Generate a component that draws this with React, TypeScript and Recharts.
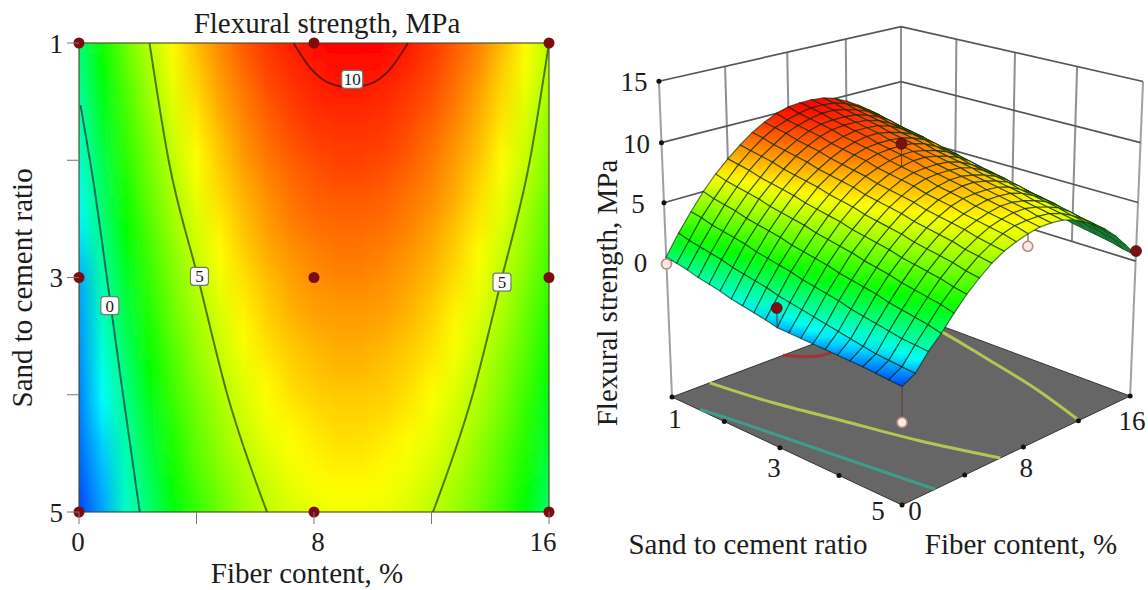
import React from 'react';
import { ComposedChart, Line, Scatter, XAxis, YAxis } from 'recharts';

const FONT = '"Liberation Serif", "Times New Roman", serif';
const TEXT = '#1c1c1c';

// grid the strength was read on
const fiberSteps = [0, 0.8, 1.6, 2.4, 3.2, 4, 4.8, 5.6, 6.4, 7.2, 8, 8.8, 9.6, 10.4, 11.2, 12, 12.8, 13.6, 14.4, 15.2, 16];
const ratioSteps = [1, 1.2, 1.4, 1.6, 1.8, 2, 2.2, 2.4, 2.6, 2.8, 3, 3.2, 3.4, 3.6, 3.8, 4, 4.2, 4.4, 4.6, 4.8, 5];

// one row per ratio, one column per fiber step, MPa
const strength = [
  [0.4, 2.1, 3.6, 5.0, 6.2, 7.2, 8.1, 8.9, 9.5, 10.0, 10.3, 10.4, 10.4, 10.3, 10.0, 9.5, 8.9, 8.2, 7.3, 6.2, 5.0],
  [0.2, 1.8, 3.4, 4.7, 5.9, 7.0, 7.9, 8.7, 9.3, 9.7, 10.0, 10.2, 10.2, 10.1, 9.8, 9.3, 8.7, 8.0, 7.0, 6.0, 4.8],
  [0.0, 1.6, 3.1, 4.5, 5.7, 6.8, 7.7, 8.4, 9.1, 9.5, 9.8, 10.0, 10.0, 9.8, 9.5, 9.1, 8.5, 7.7, 6.8, 5.8, 4.6],
  [-0.3, 1.4, 2.9, 4.3, 5.5, 6.5, 7.5, 8.2, 8.8, 9.3, 9.6, 9.7, 9.7, 9.6, 9.3, 8.9, 8.3, 7.5, 6.6, 5.5, 4.3],
  [-0.5, 1.2, 2.7, 4.0, 5.3, 6.3, 7.2, 8.0, 8.6, 9.1, 9.4, 9.5, 9.5, 9.4, 9.1, 8.6, 8.0, 7.3, 6.4, 5.3, 4.1],
  [-0.7, 0.9, 2.5, 3.8, 5.0, 6.1, 7.0, 7.8, 8.4, 8.8, 9.1, 9.3, 9.3, 9.2, 8.9, 8.4, 7.8, 7.1, 6.1, 5.1, 3.9],
  [-1.0, 0.7, 2.2, 3.6, 4.8, 5.9, 6.8, 7.5, 8.1, 8.6, 8.9, 9.1, 9.1, 8.9, 8.6, 8.2, 7.6, 6.8, 5.9, 4.9, 3.7],
  [-1.2, 0.5, 2.0, 3.4, 4.6, 5.6, 6.6, 7.3, 7.9, 8.4, 8.7, 8.8, 8.8, 8.7, 8.4, 8.0, 7.4, 6.6, 5.7, 4.6, 3.4],
  [-1.4, 0.3, 1.8, 3.1, 4.4, 5.4, 6.3, 7.1, 7.7, 8.2, 8.5, 8.6, 8.6, 8.5, 8.2, 7.7, 7.1, 6.4, 5.5, 4.4, 3.2],
  [-1.6, 0.0, 1.6, 2.9, 4.1, 5.2, 6.1, 6.9, 7.5, 7.9, 8.2, 8.4, 8.4, 8.2, 7.9, 7.5, 6.9, 6.1, 5.2, 4.2, 3.0],
  [-1.85, -0.2, 1.3, 2.7, 3.9, 5.0, 5.9, 6.6, 7.2, 7.7, 8.0, 8.2, 8.2, 8.0, 7.7, 7.3, 6.7, 5.9, 5.0, 4.0, 2.8],
  [-1.9, -0.4, 1.1, 2.5, 3.7, 4.7, 5.6, 6.4, 7.0, 7.5, 7.8, 7.9, 7.9, 7.8, 7.5, 7.0, 6.4, 5.7, 4.8, 3.7, 2.5],
  [-1.95, -0.6, 0.9, 2.2, 3.5, 4.5, 5.4, 6.2, 6.8, 7.3, 7.6, 7.7, 7.7, 7.6, 7.3, 6.8, 6.2, 5.5, 4.6, 3.5, 2.3],
  [-2.0, -0.8, 0.7, 2.0, 3.2, 4.3, 5.2, 6.0, 6.6, 7.0, 7.3, 7.5, 7.5, 7.3, 7.0, 6.6, 6.0, 5.2, 4.3, 3.3, 2.1],
  [-2.05, -1.0, 0.4, 1.8, 3.0, 4.1, 5.0, 5.7, 6.3, 6.8, 7.1, 7.3, 7.3, 7.1, 6.8, 6.4, 5.8, 5.0, 4.1, 3.1, 1.9],
  [-2.1, -1.2, 0.2, 1.6, 2.8, 3.8, 4.7, 5.5, 6.1, 6.6, 6.9, 7.0, 7.0, 6.9, 6.6, 6.1, 5.5, 4.8, 3.9, 2.8, 1.6],
  [-2.15, -1.4, 0.0, 1.3, 2.5, 3.6, 4.5, 5.3, 5.9, 6.3, 6.6, 6.8, 6.8, 6.7, 6.4, 5.9, 5.3, 4.6, 3.7, 2.6, 1.4],
  [-2.2, -1.6, -0.2, 1.1, 2.3, 3.4, 4.3, 5.1, 5.7, 6.1, 6.4, 6.6, 6.6, 6.4, 6.1, 5.7, 5.1, 4.3, 3.4, 2.4, 1.2],
  [-2.3, -1.7, -0.4, 0.9, 2.1, 3.2, 4.1, 4.8, 5.4, 5.9, 6.2, 6.4, 6.4, 6.2, 5.9, 5.5, 4.9, 4.1, 3.2, 2.2, 1.0],
  [-2.4, -1.8, -0.5, 0.7, 1.9, 2.9, 3.8, 4.6, 5.2, 5.7, 6.0, 6.1, 6.1, 6.0, 5.7, 5.2, 4.6, 3.9, 3.0, 1.9, 0.7],
  [-2.5, -1.9, -0.6, 0.4, 1.6, 2.7, 3.6, 4.4, 5.0, 5.4, 5.7, 5.9, 5.9, 5.8, 5.5, 5.0, 4.4, 3.7, 2.8, 1.7, 0.5],
];

// contour lines as [fiber, ratio] pairs
const contourZero = [[0.05, 1.53], [0.5, 2.2], [0.95, 3], [1.46, 3.93], [2.07, 5]];
const contourFiveLeft = [[2.4, 1], [3.05, 2], [4.05, 3], [5.05, 4], [6.4, 5]];
const contourFiveRight = [[12.05, 5], [13.4, 4], [14.4, 3], [15.35, 2], [16, 1]];
const contourTen = [[7.3, 1], [7.9, 1.22], [8.6, 1.35], [9.25, 1.38], [9.9, 1.35], [10.6, 1.22], [11.2, 1]];

const contourLabels = [
  { fiber: 9.3, ratio: 1.31, text: '10' },
  { fiber: 4.1, ratio: 2.99, text: '5' },
  { fiber: 14.4, ratio: 3.04, text: '5' },
  { fiber: 1.05, ratio: 3.24, text: '0' },
];

const designFibers = [0, 8, 16];
const designRatios = [1, 3, 5];
const fiberTicks = [0, 4, 8, 12, 16];
const ratioTicks = [1, 2, 3, 4, 5];

// measured design points that show in the 3D view
const shownPoints = [
  { fiber: 0, ratio: 1, value: -0.2, above: false },
  { fiber: 0, ratio: 3, value: -0.25, above: true },
  { fiber: 0, ratio: 5, value: -5.3, above: false },
  { fiber: 8, ratio: 3, value: 9.9, above: true },
  { fiber: 8, ratio: 5, value: 4.7, above: false },
  { fiber: 16, ratio: 5, value: 0.87, above: true },
];

const wallLevels = [0, 5, 10, 15];
const FLOOR = -11.9;

const colorStops: [number, number[]][] = [
  [-2.6, [0, 50, 255]],
  [-1.3, [0, 255, 255]],
  [1.8, [0, 255, 0]],
  [6.1, [255, 255, 0]],
  [10.4, [255, 0, 0]],
];

function heat(v: number) {
  if (v <= colorStops[0][0]) return 'rgb(0,50,255)';
  for (let i = 1; i < colorStops.length; i++) {
    const [hi, c1] = colorStops[i];
    const [lo, c0] = colorStops[i - 1];
    if (v <= hi) {
      const k = (v - lo) / (hi - lo);
      return `rgb(${c0.map((c, n) => Math.round(c + (c1[n] - c) * k)).join(',')})`;
    }
  }
  return 'rgb(255,0,0)';
}

// camera of the 3D view, fitted on the box corners
function project(fiber: number, ratio: number, z: number) {
  const u = fiber / 16;
  const v = (ratio - 1) / 4;
  const t = -0.002 * (z - FLOOR);
  const w = 0.1207 * u - 0.1169 * v + 1 + t;
  return {
    px: (337.8 * u + 124.6 * v + 672 + 902 * t) / w,
    py: (-48.5 * u + 49 * v + 397 + 5950 * t) / w,
    depth: w,
  };
}

const surfaceCells: any[] = [];
for (let i = 0; i < ratioSteps.length - 1; i++) {
  for (let j = 0; j < fiberSteps.length - 1; j++) {
    const idx = [[i, j], [i, j + 1], [i + 1, j + 1], [i + 1, j]];
    const corners = idx.map(([a, b]) => project(fiberSteps[b], ratioSteps[a], strength[a][b]));
    const vals = idx.map(([a, b]) => strength[a][b]);
    // signed area tells the faces turned away from the camera
    let area = 0;
    corners.forEach((c, n) => {
      const d = corners[(n + 1) % 4];
      area += c.px * d.py - d.px * c.py;
    });
    const loAt = vals.indexOf(Math.min(...vals));
    const hiAt = vals.indexOf(Math.max(...vals));
    surfaceCells.push({
      ...corners[0],
      corners,
      id: `cell-${i}-${j}`,
      back: area < 0,
      lo: { ...corners[loAt], value: vals[loAt] },
      hi: { ...corners[hiAt], value: vals[hiAt] },
      order: project(fiberSteps[j], ratioSteps[i + 1], FLOOR).depth + project(fiberSteps[j + 1], ratioSteps[i], FLOOR).depth,
    });
  }
}
surfaceCells.sort((a, b) => b.order - a.order);

const heatRows = ratioSteps.map((ratio, i) => ({ fiber: 8, ratio, values: strength[i], row: i }));
const leftDots = designRatios.flatMap((ratio) => designFibers.map((fiber) => ({ fiber, ratio })));
const frame = [[0, 1], [16, 1], [16, 5], [0, 5], [0, 1]];

const floorCorners = [project(0, 1, FLOOR), project(16, 1, FLOOR), project(16, 5, FLOOR), project(0, 5, FLOOR)];
const floorCell = [{ ...floorCorners[0], corners: floorCorners, fill: '#666666' }];

const toFiberRatio = (pts: number[][]) => pts.map(([fiber, ratio]) => ({ fiber, ratio }));
const toFloor = (pts: number[][]) => pts.map(([fiber, ratio]) => project(fiber, ratio, FLOOR));

const wallLines: { pts: any[]; color: string; width: number }[] = [];
[4, 8, 12].forEach((f) => wallLines.push({ pts: [project(f, 1, 0), project(f, 1, 15)], color: '#8f8f8f', width: 2 }));
[2, 3, 4].forEach((r) => wallLines.push({ pts: [project(16, r, 0), project(16, r, 15)], color: '#8f8f8f', width: 2 }));
wallLines.push({ pts: [project(16, 1, 0), project(16, 1, 15)], color: '#8f8f8f', width: 2 });
wallLines.push({ pts: [project(0, 1, FLOOR), project(0, 1, 15)], color: '#a0a0a0', width: 2 });
wallLines.push({ pts: [project(16, 5, FLOOR), project(16, 5, 15)], color: '#a0a0a0', width: 2 });
wallLevels.forEach((z) => {
  wallLines.push({ pts: [project(0, 1, z), project(16, 1, z), project(16, 5, z)], color: '#565656', width: 1.7 });
});

const stems = shownPoints.map((p) => {
  const a = ratioSteps.indexOf(p.ratio);
  const b = fiberSteps.indexOf(p.fiber);
  return [project(p.fiber, p.ratio, p.value), project(p.fiber, p.ratio, strength[a][b])];
});
const pointMarks = shownPoints.map((p) => ({ ...project(p.fiber, p.ratio, p.value), above: p.above }));

const tickMarks = [
  ...[5, 10, 15].map((z) => project(0, 1, z)),
  ...[1, 2, 3, 4, 5].map((r) => project(0, r, FLOOR)),
  ...[4, 8, 12, 16].map((f) => project(f, 5, FLOOR)),
];

const textMarks = [
  ...['15', '10', '5', '0'].map((text) => ({ ...project(0, 1, Number(text)), text, dx: text.length > 1 ? -25 : -26, dy: 3 })),
  ...[
    { text: '1', dx: 3, dy: 24 },
    { text: '3', dx: -6, dy: 22 },
    { text: '5', dx: -24, dy: 8 },
  ].map((m) => ({ ...project(0, Number(m.text), FLOOR), ...m })),
  ...[
    { text: '0', dx: 13, dy: 8 },
    { text: '8', dx: 3, dy: 23 },
    { text: '16', dx: 2, dy: 27 },
  ].map((m) => ({ ...project(Number(m.text), 5, FLOOR), ...m })),
];

// left panel box in page pixels
const PLOT_LEFT = 79;
const PLOT_TOP = 43;
const PLOT_W = 470;
const PLOT_H = 469;

function HeatRow(props: any) {
  const { cx, cy, payload } = props;
  const id = `row-${payload.row}`;
  const x0 = cx - PLOT_W / 2;
  const step = PLOT_H / (ratioSteps.length - 1);
  const top = payload.row === 0 ? cy - 60 : cy - step / 2 - 0.5;
  const bottom = payload.row === ratioSteps.length - 1 ? cy + 60 : cy + step / 2 + 0.5;
  return (
    <g>
      <defs>
        <linearGradient id={id} x1="0" x2="1" y1="0" y2="0">
          {payload.values.map((v: number, i: number) => (
            <stop key={i} offset={fiberSteps[i] / 16} stopColor={heat(v)} />
          ))}
        </linearGradient>
      </defs>
      <rect x={x0} y={top} width={PLOT_W} height={bottom - top} fill={`url(#${id})`} />
    </g>
  );
}

const Dot = (props: any) => <circle cx={props.cx} cy={props.cy} r={5.5} fill="#7d0c10" />;

function ContourTag(props: any) {
  const { cx, cy, payload } = props;
  const w = payload.text.length > 1 ? 21 : 18;
  return (
    <g>
      <rect x={cx - w / 2} y={cy - 9} width={w} height={18} rx={3} fill="#fff" stroke="#6b7d6b" strokeWidth={1.2} />
      <text x={cx} y={cy + 6} textAnchor="middle" fontFamily={FONT} fontSize={17} fill={TEXT}>{payload.text}</text>
    </g>
  );
}

function Poly(props: any) {
  const { cx, cy, payload } = props;
  const dx = cx - payload.px;
  const dy = cy - payload.py;
  const points = payload.corners.map((c: any) => `${c.px + dx},${c.py + dy}`).join(' ');
  return <polygon points={points} fill={payload.fill} stroke="#333" strokeWidth={1} />;
}

function SurfaceCell(props: any) {
  const { cx, cy, payload } = props;
  const dx = cx - payload.px;
  const dy = cy - payload.py;
  const points = payload.corners.map((c: any) => `${c.px + dx},${c.py + dy}`).join(' ');
  if (payload.back) return <polygon points={points} fill="#1c7a34" stroke="#0f5a22" strokeWidth={1} />;
  const { lo, hi, id } = payload;
  const mid = (lo.value + hi.value) / 2;
  return (
    <g>
      <defs>
        <linearGradient id={id} gradientUnits="userSpaceOnUse" x1={lo.px + dx} y1={lo.py + dy} x2={hi.px + dx} y2={hi.py + dy}>
          <stop offset="0" stopColor={heat(lo.value)} />
          <stop offset="0.5" stopColor={heat(mid)} />
          <stop offset="1" stopColor={heat(hi.value)} />
        </linearGradient>
      </defs>
      <polygon points={points} fill={`url(#${id})`} stroke="rgba(0,35,0,0.62)" strokeWidth={1.2} />
    </g>
  );
}

function PointMark(props: any) {
  const { cx, cy, payload } = props;
  if (payload.above) return <circle cx={cx} cy={cy} r={5.5} fill="#7d1014" stroke="#3a0a0a" strokeWidth={0.6} />;
  return <circle cx={cx} cy={cy} r={5} fill="#fde8e4" stroke="#b58a86" strokeWidth={1.6} />;
}

const TickDot = (props: any) => <circle cx={props.cx} cy={props.cy} r={2.5} fill="#111" />;

const AxisText = (props: any) => (
  <text x={props.cx + props.payload.dx} y={props.cy + props.payload.dy + 7} textAnchor="middle" fontFamily={FONT} fontSize={27} fill={TEXT}>
    {props.payload.text}
  </text>
);

function FiberTick(props: any) {
  const value = props.payload.value;
  if (!designFibers.includes(value)) return null;
  return (
    <text x={props.x - (value === 16 ? 6 : value === 8 ? -4 : 1)} y={props.y + 24} textAnchor="middle" fontFamily={FONT} fontSize={27} fill={TEXT}>
      {value}
    </text>
  );
}

const labelStyle = { fontFamily: FONT, fontSize: 29, fill: TEXT };
const tickStyle = { fontFamily: FONT, fontSize: 27, fill: TEXT };

function ContourPanel() {
  return (
    <ComposedChart width={570} height={590} margin={{ top: PLOT_TOP, right: 21, bottom: 0, left: 0 }} style={{ position: 'absolute', left: 0, top: 0 }}>
      <XAxis
        type="number"
        dataKey="fiber"
        domain={[0, 16]}
        ticks={fiberTicks}
        interval={0}
        height={78}
        axisLine={false}
        tickSize={12}
        tickMargin={3}
        stroke="#777"
        tick={FiberTick}
        label={{ value: 'Fiber content, %', position: 'insideBottom', offset: 7, dx: -7, style: labelStyle }}
      />
      <YAxis
        type="number"
        dataKey="ratio"
        reversed
        domain={[1, 5]}
        ticks={ratioTicks}
        interval={0}
        width={PLOT_LEFT}
        axisLine={false}
        tickSize={12}
        tickMargin={4}
        stroke="#777"
        tick={tickStyle}
        tickFormatter={(v) => (designRatios.includes(v) ? String(v) : '')}
        label={{ value: 'Sand to cement ratio', angle: -90, position: 'insideLeft', offset: 22, dy: 130, style: labelStyle }}
      />
      <Scatter data={heatRows} shape={HeatRow} className="heat-layer" isAnimationActive={false} zIndex={1} />
      {[contourZero, contourFiveLeft, contourFiveRight, contourTen].map((pts, i) => (
        <Line
          key={i}
          data={toFiberRatio(pts)}
          dataKey="ratio"
          type="monotone"
          dot={false}
          stroke={i === 0 ? '#14705c' : i === 3 ? '#7a1010' : '#4e7a00'}
          strokeWidth={2}
          isAnimationActive={false}
          zIndex={2}
        />
      ))}
      <Line data={toFiberRatio(frame)} dataKey="ratio" type="linear" dot={false} stroke="rgba(70,70,30,0.55)" strokeWidth={2} isAnimationActive={false} zIndex={3} />
      <Scatter data={contourLabels} shape={ContourTag} isAnimationActive={false} zIndex={4} />
      <Scatter data={leftDots} shape={Dot} isAnimationActive={false} zIndex={5} />
      <text x={327} y={33} textAnchor="middle" fontFamily={FONT} fontSize={29} fill={TEXT}>Flexural strength, MPa</text>
    </ComposedChart>
  );
}

function SurfacePanel() {
  return (
    <ComposedChart width={568} height={590} margin={{ top: 0, right: 0, bottom: 0, left: 0 }} style={{ position: 'absolute', left: 580, top: 0 }}>
      <XAxis hide type="number" dataKey="px" domain={[580, 1148]} allowDataOverflow />
      <YAxis hide type="number" dataKey="py" domain={[0, 590]} reversed allowDataOverflow width={0} />
      {wallLines.map((l, i) => (
        <Line key={i} data={l.pts} dataKey="py" type="linear" dot={false} stroke={l.color} strokeWidth={l.width} isAnimationActive={false} zIndex={1} />
      ))}
      <Scatter data={floorCell} shape={Poly} isAnimationActive={false} zIndex={2} />
      {[
        { pts: contourZero, color: '#3f9c88' },
        { pts: contourFiveLeft, color: '#b4c455' },
        { pts: contourFiveRight, color: '#b4c455' },
        { pts: contourTen, color: '#a83232' },
      ].map((c, i) => (
        <Line key={i} data={toFloor(c.pts)} dataKey="py" type="natural" dot={false} stroke={c.color} strokeWidth={3} isAnimationActive={false} zIndex={3} />
      ))}
      <Scatter data={tickMarks} shape={TickDot} isAnimationActive={false} zIndex={3} />
      <Scatter data={surfaceCells} shape={SurfaceCell} isAnimationActive={false} zIndex={4} />
      {stems.map((s, i) => (
        <Line key={i} data={s} dataKey="py" type="linear" dot={false} stroke="#5a3a3a" strokeWidth={1} isAnimationActive={false} zIndex={5} />
      ))}
      <Scatter data={pointMarks} shape={PointMark} isAnimationActive={false} zIndex={6} />
      <Scatter data={textMarks} shape={AxisText} isAnimationActive={false} zIndex={7} />
      <text x={168} y={554} textAnchor="middle" fontFamily={FONT} fontSize={29} fill={TEXT}>Sand to cement ratio</text>
      <text x={441} y={554} textAnchor="middle" fontFamily={FONT} fontSize={29} fill={TEXT}>Fiber content, %</text>
      <text transform="translate(37 293) rotate(-90)" textAnchor="middle" fontFamily={FONT} fontSize={29} fill={TEXT}>Flexural strength, MPa</text>
    </ComposedChart>
  );
}

export default function App() {
  return (
    <div style={{ position: 'absolute', left: 0, top: 0, width: 1148, height: 590, background: '#fff', overflow: 'hidden' }}>
      <style>{`.heat-layer { filter: url(#heatBlur); clip-path: url(#heatClip); }`}</style>
      <svg width={0} height={0} style={{ position: 'absolute' }}>
        <defs>
          <filter id="heatBlur" filterUnits="userSpaceOnUse" x={0} y={-100} width={600} height={800}>
            <feGaussianBlur stdDeviation="0 12" />
          </filter>
          <clipPath id="heatClip" clipPathUnits="userSpaceOnUse">
            <rect x={PLOT_LEFT} y={PLOT_TOP} width={PLOT_W} height={PLOT_H} />
          </clipPath>
        </defs>
      </svg>
      <ContourPanel />
      <SurfacePanel />
    </div>
  );
}
